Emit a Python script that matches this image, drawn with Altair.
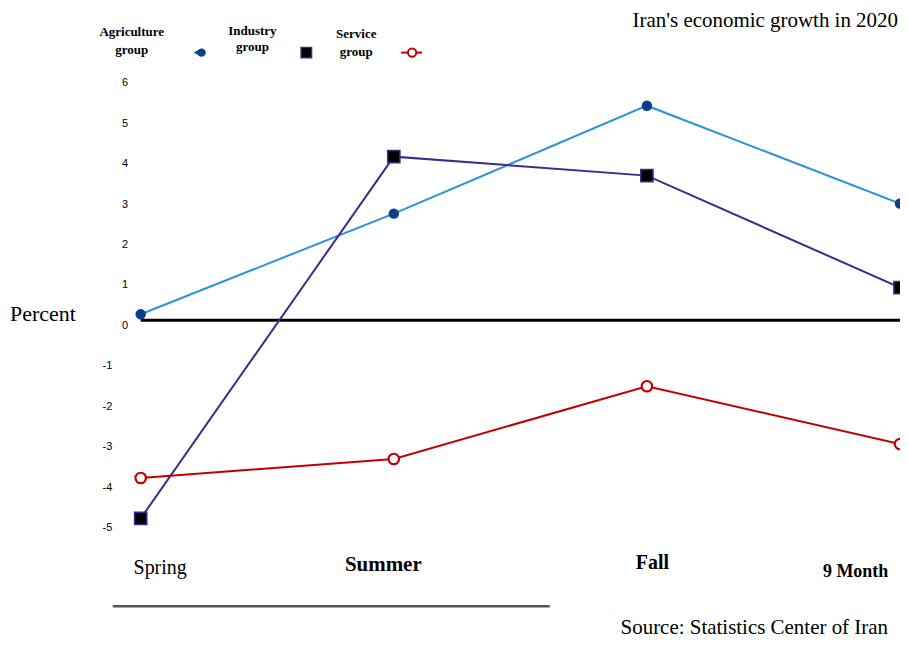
import altair as alt
import pandas as pd

seasons = ["Spring", "Summer", "Fall", "9 Month"]
agriculture = [0.15, 2.64, 5.31, 2.89]
industry = [-4.9, 4.05, 3.58, 0.81]
service = [-3.9, -3.43, -1.63, -3.06]
y_ticks = list(range(-5, 7))

title_text = "Iran's economic growth in 2020"
ylabel_text = "Percent"
source_text = "Source: Statistics Center of Iran"

df = pd.DataFrame({"season": seasons * 3,
                   "value": agriculture + industry + service,
                   "group": ["Agriculture"] * 4 + ["Industry"] * 4 + ["Service"] * 4})

AGRI_LINE = "#2b93d3"
AGRI_PT = "#0b3f8c"
IND_LINE = "#3d2a8c"
SERV = "#c00000"
SERIF = "Liberation Serif"

W, H = 761, 474

def cond(mapping, default):
    return {"condition": [{"test": f"datum.value === '{k}'", "value": v} for k, v in mapping.items()],
            "value": default}

x_enc = alt.X("season:N", sort=seasons,
              scale=alt.Scale(type="point", padding=0),
              axis=alt.Axis(title=None, domain=False, ticks=False, grid=False, labelAngle=0,
                            labelFont=SERIF, labelColor="black",
                            labelFontSize=cond({"9 Month": 18, "Summer": 21}, 20),
                            labelFontWeight=cond({"Spring": "normal"}, "bold"),
                            labelBaseline="alphabetic",
                            labelPadding=cond({"Spring": 43, "Summer": 40, "Fall": 38, "9 Month": 46}, 40),
                            labelOffset=cond({"Spring": 19, "Summer": -11, "Fall": 5, "9 Month": -45}, 0),
                            labelOverlap=False, labelFlush=False, labelBound=False))
y_enc = alt.Y("value:Q",
              scale=alt.Scale(domain=[-5.2, 6.5], nice=False, zero=False),
              axis=alt.Axis(title=None, domain=False, ticks=False, grid=False, values=y_ticks,
                            labelExpr="'' + datum.value", labelFont="Liberation Sans",
                            labelFontSize=11, labelColor="black", labelAlign="right",
                            labelBaseline="middle", labelOffset=5,
                            labelPadding={"condition": {"test": "datum.value < 0", "value": 29}, "value": 13}))

base = alt.Chart(df)

zero_rule = alt.Chart(pd.DataFrame({"value": [0]})).mark_rule(color="black", strokeWidth=3).encode(y=y_enc)

agri_line = base.transform_filter("datum.group === 'Agriculture'").mark_line(color=AGRI_LINE, strokeWidth=2).encode(x=x_enc, y=y_enc)
agri_pts = base.transform_filter("datum.group === 'Agriculture'").mark_point(
    shape="circle", filled=True, color=AGRI_PT, size=110, opacity=1).encode(x=x_enc, y=y_enc)
ind_line = base.transform_filter("datum.group === 'Industry'").mark_line(color=IND_LINE, strokeWidth=2).encode(x=x_enc, y=y_enc)
ind_pts = base.transform_filter("datum.group === 'Industry'").mark_point(
    shape="square", filled=True, fill="black", stroke=IND_LINE, strokeWidth=1.5, size=150, opacity=1).encode(x=x_enc, y=y_enc)
serv_line = base.transform_filter("datum.group === 'Service'").mark_line(color=SERV, strokeWidth=2).encode(x=x_enc, y=y_enc)
serv_pts = base.transform_filter("datum.group === 'Service'").mark_point(
    shape="circle", filled=True, fill="white", stroke=SERV, strokeWidth=2.2, size=110, opacity=1).encode(x=x_enc, y=y_enc)


def label(text, x, y, size, align="center", weight="normal", font=SERIF):
    return alt.Chart(pd.DataFrame({"t": [text]})).mark_text(
        font=font, fontSize=size, fontWeight=weight, align=align, baseline="alphabetic", color="black"
    ).encode(text="t:N", x=alt.value(x), y=alt.value(y))


def seg(x1, x2, y, color, width):
    return alt.Chart(pd.DataFrame({"a": [0]})).mark_rule(color=color, strokeWidth=width).encode(
        x=alt.value(x1), x2=alt.value(x2), y=alt.value(y))


def marker(x, y, **kw):
    return alt.Chart(pd.DataFrame({"a": [0]})).mark_point(opacity=1, **kw).encode(
        x=alt.value(x), y=alt.value(y))


annotations = [
    label(title_text, 759, -31, 21, align="right"),
    label(ylabel_text, -131, 264, 22, align="left"),
    label(source_text, 749, 578, 21, align="right"),
    seg(-28, 410, 550, "#555555", 2.5),
    label("Agriculture", -9, -22, 13, weight="bold"),
    label("group", -9, -4, 13, weight="bold"),
    label("Industry", 112, -23, 13, weight="bold"),
    label("group", 112, -7, 13, weight="bold"),
    label("Service", 216, -20, 13, weight="bold"),
    label("group", 216, -2, 13, weight="bold"),
    marker(56, -5, shape="triangle-left", filled=True, color=AGRI_PT, size=40),
    marker(61, -5, shape="circle", filled=True, color=AGRI_PT, size=70),
    marker(166, -5, shape="square", filled=True, fill="black", stroke=IND_LINE, strokeWidth=1.5, size=110),
    seg(261, 282, -5, SERV, 2),
    marker(272, -5, shape="circle", filled=True, fill="white", stroke=SERV, strokeWidth=2, size=70),
]

chart = alt.layer(zero_rule, agri_line, ind_line, serv_line, agri_pts, ind_pts, serv_pts, *annotations).properties(
    width=W, height=H,
    autosize=alt.AutoSizeParams(type="none"),
    padding={"left": 133, "top": 49, "right": 0, "bottom": 108},
    background="white",
).configure_view(stroke=None)

chart.save("out.html", embed_options={"renderer": "svg", "actions": False})
